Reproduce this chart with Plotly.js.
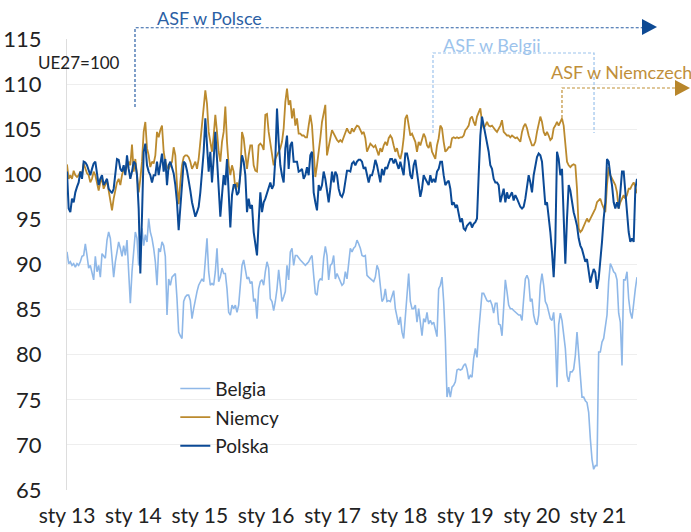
<!DOCTYPE html>
<html><head><meta charset="utf-8">
<script src="https://cdn.plot.ly/plotly-3.0.1.min.js"></script>
<style>html,body{margin:0;padding:0;background:#fff}#chart{width:691px;height:532px}</style>
</head><body><div id="chart"></div>
<script>
// observation grid: ~9-day readings starting Jan 2013
const startYear = 2013;
const obsPerYear = 39.84;
const tickYears = [2013, 2014, 2015, 2016, 2017, 2018, 2019, 2020, 2021];
const tickLabels = ['sty 13', 'sty 14', 'sty 15', 'sty 16', 'sty 17', 'sty 18', 'sty 19', 'sty 20', 'sty 21'];
const seriesNames = ['Belgia', 'Niemcy', 'Polska'];

const belgia = [
91.4, 90.1, 90.3, 89.9, 90.1, 89.7, 90.1, 89.9, 90.3, 90.9,
91.0, 92.3, 91.0, 89.6, 89.9, 89.2, 88.3, 90.9, 89.2, 89.9,
88.6, 91.2, 90.9, 90.7, 92.7, 93.6, 92.9, 90.7, 88.6, 90.3,
91.4, 92.5, 91.8, 90.9, 92.1, 91.0, 92.7, 89.2, 85.7, 89.2,
91.4, 93.6, 92.9, 89.9, 91.0, 94.0, 92.1, 93.3, 92.5, 95.1,
93.6, 92.9, 91.8, 90.3, 87.7, 91.8, 91.4, 92.5, 92.1, 90.9,
84.4, 88.4, 87.7, 88.6, 88.8, 89.0, 86.2, 82.5, 82.1, 81.8,
85.9, 86.4, 86.6, 86.6, 86.0, 84.0, 85.1, 86.2, 87.0, 87.7,
88.1, 88.4, 88.1, 90.1, 92.9, 89.2, 87.7, 87.9, 87.7, 89.2,
91.8, 88.1, 88.6, 89.6, 89.0, 89.0, 87.3, 84.7, 84.4, 85.5,
85.1, 85.5, 84.7, 85.5, 87.3, 89.9, 90.5, 89.2, 88.4, 88.6,
87.9,
88.1, 85.9, 86.2, 84.0, 87.3, 88.1, 88.3, 87.7, 89.2, 90.3,
89.6, 86.2, 85.9, 84.9, 85.9, 87.3, 89.4, 87.7, 85.9, 86.4,
87.0, 89.9, 88.3, 91.4, 91.8, 89.9, 91.0, 91.0, 90.7, 90.5,
90.3, 90.1, 89.9, 90.1, 90.3, 90.7, 91.0, 88.8, 86.8, 86.6,
88.1, 88.4, 88.3, 90.7, 92.0, 91.0, 88.3, 89.9, 90.1, 91.0,
88.4, 89.0, 88.6, 88.1, 87.7, 87.9, 89.2, 88.4, 90.3, 91.8,
91.4, 91.8, 92.0, 92.7, 92.3, 91.8, 91.0, 90.9, 91.0, 88.8,
88.6, 88.4, 88.3, 88.1, 88.6, 89.9, 89.4, 87.3, 85.9, 86.2,
87.3, 85.9, 86.0, 85.9, 86.6, 87.1, 85.1, 84.0, 83.3, 84.2,
82.5, 81.8, 84.4, 86.2, 89.0, 85.9, 85.1, 85.1, 85.5, 83.6,
85.1, 83.6, 82.1, 84.0, 83.6, 84.7, 83.4, 83.8, 83.4, 83.6,
82.9, 82.0, 87.3, 87.7,
88.6, 85.9, 81.8, 75.3, 76.4, 75.3, 76.4, 76.6, 77.0, 78.3,
78.4, 78.3, 78.4, 78.8, 79.0, 78.4, 77.3, 77.7, 77.5, 79.6,
80.7, 79.7, 82.5, 84.4, 86.8, 86.8, 86.4, 86.0, 85.9, 86.0,
85.5, 84.6, 85.7, 85.7, 83.4, 83.3, 82.1, 85.5, 88.3, 87.0,
85.5, 85.1, 85.1, 84.9, 84.7, 84.6, 84.4, 84.4, 83.8, 86.2,
88.4, 88.8, 88.3, 85.9, 86.2, 84.4, 83.6, 83.3, 84.4, 87.7,
89.0, 87.7, 85.9, 85.5, 84.7, 84.0, 83.8, 84.7, 81.8, 76.4,
83.3, 84.6, 83.8, 82.1, 80.7, 77.7, 77.0, 78.1, 78.1, 78.4,
79.9, 82.5, 79.9, 78.1, 75.3, 75.3, 74.9, 74.7, 73.6, 70.7,
68.4, 67.3, 67.7, 67.7, 80.3, 80.3, 81.4, 81.8, 82.9, 84.4,
88.1, 90.1, 89.7, 89.2, 89.0, 88.3, 84.6, 83.6, 78.8, 88.3,
88.3, 89.2, 86.2, 84.7, 84.0, 85.9, 87.3, 88.6
];

const niemcy = [
101.1, 99.5, 99.9, 99.5, 100.4, 99.9, 99.7, 99.9, 100.3, 99.9,
101.2, 100.6, 100.1, 99.9, 99.1, 99.5, 100.3, 99.9, 99.1, 98.2,
99.1, 99.5, 98.4, 98.8, 99.3, 98.2, 96.9, 96.0, 97.3, 98.4,
99.1, 99.5, 98.8, 99.9, 100.6, 100.3, 101.0, 101.4, 101.0, 103.3,
100.3, 101.7, 99.9, 98.0, 99.5, 101.4, 104.7, 105.8, 102.9, 102.1,
100.8, 101.4, 101.2, 102.1, 104.7, 104.1, 104.9, 105.4, 102.5, 101.4,
100.8, 100.6, 101.0, 101.4, 103.0, 102.1, 98.8, 96.7, 99.1, 101.0,
101.9, 102.1, 102.1, 101.9, 101.4, 100.6, 101.0, 101.4, 100.6, 101.7,
103.6, 105.4, 106.9, 109.3, 107.8, 104.7, 103.6, 102.5, 104.3, 106.6,
104.7, 102.5, 101.4, 103.6, 104.7, 107.5, 103.6, 101.0, 99.9, 101.0,
100.3, 98.4, 99.1, 98.4, 99.9, 104.7, 104.0, 102.1, 100.6, 102.1,
103.2,
103.2, 101.0, 100.4, 100.3, 103.2, 103.4, 103.2, 102.7, 106.6, 106.7,
104.7, 103.6, 102.5, 101.0, 101.7, 102.1, 102.5, 102.9, 103.6, 105.1,
108.0, 109.5, 107.7, 108.2, 106.2, 107.3, 105.4, 106.2, 104.5, 104.5,
104.3, 104.3, 104.1, 104.1, 105.4, 106.6, 105.4, 102.1, 99.7, 101.0,
102.9, 104.0, 105.8, 106.9, 107.7, 102.1, 102.9, 104.0, 104.9, 104.5,
104.1, 103.8, 103.6, 103.8, 103.6, 104.1, 104.7, 105.1, 104.7, 104.5,
105.1, 104.7, 105.1, 105.4, 105.3, 104.9, 104.5, 104.7, 104.0, 102.5,
103.0, 103.4, 103.2, 103.0, 103.2, 102.5, 102.1, 102.9, 102.5, 103.2,
103.6, 103.2, 104.0, 104.3, 104.0, 103.2, 102.5, 102.9, 102.1, 101.7,
102.5, 104.0, 106.2, 106.6, 105.4, 104.3, 104.5, 104.1, 103.6, 102.5,
103.6, 103.2, 103.8, 104.5, 104.1, 103.2, 102.9, 103.6, 102.5, 102.1,
101.7, 103.2, 104.0, 105.4,
105.1, 103.6, 102.5, 102.7, 103.0, 103.0, 104.0, 104.1, 104.0, 104.1,
104.0, 104.1, 104.1, 104.3, 104.9, 105.1, 105.4, 106.2, 106.4, 105.8,
105.4, 106.4, 106.9, 107.3, 105.8, 105.1, 105.4, 105.8, 105.4, 105.3,
105.4, 105.1, 104.9, 104.7, 105.1, 105.4, 106.0, 104.7, 104.5, 104.3,
104.3, 104.1, 104.3, 104.1, 104.0, 104.1, 103.8, 103.6, 104.7, 105.3,
105.6, 105.1, 104.3, 103.6, 103.2, 103.2, 103.6, 104.7, 105.4, 106.4,
105.8, 104.7, 104.3, 104.7, 104.3, 103.8, 104.0, 105.1, 105.4, 105.8,
105.4, 105.8, 106.2, 105.4, 103.6, 101.4, 101.0, 100.8, 101.0, 101.1,
101.0, 98.4, 94.0, 93.6, 93.8, 94.3, 94.7, 95.1, 94.7, 95.1,
95.4, 95.8, 96.2, 96.9, 97.1, 97.3, 96.7, 96.2, 95.8, 98.8,
100.8, 99.9, 99.5, 99.1, 98.8, 98.0, 96.2, 96.9, 97.3, 97.7,
97.3, 97.7, 98.4, 98.4, 98.8, 99.1, 98.6, 97.9
];

const polska = [
100.3, 96.2, 95.8, 97.3, 96.9, 98.0, 98.6, 99.1, 100.3, 99.5,
101.4, 101.3, 101.0, 100.4, 99.9, 100.6, 101.2, 101.4, 99.9, 98.8,
99.5, 99.9, 98.8, 99.1, 99.5, 98.4, 98.2, 97.9, 98.4, 100.3,
101.7, 101.6, 100.6, 100.3, 101.0, 99.9, 102.1, 100.6, 99.5, 100.3,
101.4, 101.2, 99.9, 96.2, 89.0, 95.4, 102.5, 103.4, 101.0, 100.3,
99.9, 99.1, 99.9, 99.9, 101.4, 99.9, 101.4, 102.3, 100.3, 101.7,
98.8, 101.0, 101.4, 100.6, 100.1, 98.8, 96.9, 93.8, 96.9, 98.8,
101.4, 101.2, 100.4, 99.5, 98.2, 96.9, 96.2, 95.3, 95.8, 96.4,
98.0, 99.9, 102.5, 106.2, 103.6, 100.3, 102.5, 99.1, 101.7, 104.7,
101.7, 98.8, 95.3, 97.7, 99.9, 98.8, 101.7, 98.0, 94.1, 97.7,
98.8, 98.8, 97.7, 98.0, 99.9, 102.1, 101.4, 99.9, 95.8, 97.3,
96.2,
96.6, 93.6, 92.1, 91.0, 94.7, 98.0, 95.8, 96.9, 97.3, 98.0,
98.6, 99.1, 98.4, 98.8, 101.7, 107.3, 103.6, 101.0, 99.9, 99.1,
102.9, 104.3, 100.6, 103.2, 103.6, 101.4, 101.4, 101.4, 100.3, 100.4,
100.6, 99.5, 99.9, 100.8, 99.9, 102.1, 102.5, 98.0, 96.9, 96.0,
98.8, 98.2, 98.8, 100.3, 99.5, 98.0, 96.9, 98.4, 100.3, 99.1,
100.3, 99.9, 98.4, 97.7, 97.5, 98.0, 99.1, 100.4, 100.4, 100.3,
101.2, 101.4, 101.0, 101.4, 101.6, 101.6, 101.4, 100.6, 100.8, 99.9,
99.1, 99.9, 99.9, 100.6, 101.6, 101.0, 99.9, 99.1, 100.6, 99.9,
100.8, 100.6, 101.2, 101.7, 101.7, 101.2, 101.7, 101.0, 100.6, 101.4,
100.6, 99.9, 102.3, 102.3, 101.4, 99.9, 99.5, 101.0, 101.6, 100.3,
99.1, 97.5, 98.4, 99.9, 99.5, 99.1, 98.8, 99.9, 99.1, 99.5,
99.1, 100.3, 100.6, 101.4,
101.4, 99.9, 98.8, 99.1, 99.3, 98.4, 96.6, 96.9, 96.4, 96.6,
95.4, 94.7, 95.1, 94.0, 93.8, 94.3, 94.5, 94.7, 94.1, 94.5,
94.7, 95.1, 99.9, 104.3, 106.4, 105.4, 104.5, 103.8, 102.5, 101.0,
100.6, 99.5, 99.1, 99.1, 98.8, 96.9, 97.7, 98.4, 96.9, 98.0,
97.3, 97.7, 98.0, 97.1, 97.7, 97.3, 96.9, 96.4, 96.2, 96.4,
97.3, 98.4, 99.9, 99.1, 98.0, 99.9, 101.0, 101.9, 102.3, 102.1,
101.4, 98.8, 96.6, 96.9, 95.4, 93.6, 91.4, 88.6, 92.5, 102.5,
101.7, 99.9, 100.6, 95.1, 90.1, 95.1, 98.8, 98.2, 96.9, 95.8,
95.1, 94.3, 92.9, 92.1, 91.7, 91.0, 90.3, 90.6, 89.5, 88.0,
88.8, 89.5, 89.1, 87.3, 88.4, 90.3, 92.5, 95.1, 96.9, 101.7,
101.4, 99.9, 98.8, 96.9, 96.2, 96.9, 96.2, 98.0, 100.3, 100.3,
98.0, 95.8, 93.6, 92.5, 92.9, 92.5, 98.4, 99.5
];

const timeOf = arr => arr.map((_, i) => startYear + i / obsPerYear);
const lastTime = startYear + (polska.length - 1) / obsPerYear;

const FONT = 'Lato, "Open Sans", "DejaVu Sans", sans-serif';
const colors = { Belgia: '#8fb8e8', Niemcy: '#bb8a2e', Polska: '#0b4a96' };
const widths = { Belgia: 1.6, Niemcy: 1.8, Polska: 2.0 };
const values = { Belgia: belgia, Niemcy: niemcy, Polska: polska };

const traces = seriesNames.map(name => ({
  type: 'scatter', mode: 'lines', name: name,
  x: timeOf(values[name]), y: values[name],
  legendgroup: name,
  line: { color: colors[name], width: widths[name] },
  hoverinfo: 'skip'
}));

const dot = '3px,2px';
const layout = {
  width: 691, height: 532,
  margin: { l: 67, r: 54, t: 39, b: 42 },
  paper_bgcolor: '#ffffff', plot_bgcolor: '#ffffff',
  font: { family: FONT, color: '#222222' },
  showlegend: true,
  legend: {
    x: 0.19, xanchor: 'left', y: 0.267, yanchor: 'top',
    bgcolor: 'rgba(0,0,0,0)', font: { family: FONT, size: 19, color: '#222222' },
    traceorder: 'grouped', tracegroupgap: 1
  },
  xaxis: {
    range: [startYear, lastTime],
    tickmode: 'array', tickvals: tickYears, ticktext: tickLabels,
    showgrid: false, zeroline: false, showline: false, ticks: '',
    tickfont: { family: FONT, size: 21, color: '#222222' },
    ticklabelstandoff: 11, fixedrange: true
  },
  yaxis: {
    range: [65, 115], tick0: 65, dtick: 5,
    showgrid: true, gridcolor: '#eeeeee', gridwidth: 1,
    zeroline: false, showline: true, linecolor: '#dddddd', linewidth: 1,
    ticks: '', tickfont: { family: FONT, size: 22, color: '#222222' },
    ticklabelstandoff: 20, fixedrange: true
  },
  shapes: [
    { type: 'line', xref: 'paper', yref: 'y', x0: 0, x1: 1, y0: 100, y1: 100,
      line: { color: '#d6d6d6', width: 1.3 }, layer: 'below' },
    // ASF w Polsce
    { type: 'path', xref: 'paper', yref: 'paper',
      path: 'M 0.1193 0.8492 L 0.1193 1.025 L 1.0105 1.025',
      line: { color: '#2b5fa5', width: 1.2, dash: dot } },
    { type: 'path', xref: 'paper', yref: 'paper',
      path: 'M 1.0088 1.0443 L 1.0351 1.0266 L 1.0088 1.0089 Z',
      fillcolor: '#0e4a94', line: { width: 0 } },
    // ASF w Belgii
    { type: 'path', xref: 'paper', yref: 'paper',
      path: 'M 0.6421 0.7916 L 0.6421 0.9690 L 0.9246 0.9690 L 0.9246 0.7916',
      line: { color: '#9cc3ec', width: 1.2, dash: dot } },
    // ASF w Niemczech
    { type: 'path', xref: 'paper', yref: 'paper',
      path: 'M 0.8684 0.8248 L 0.8684 0.8914 L 1.0667 0.8914',
      line: { color: '#c09035', width: 1.2, dash: dot } },
    { type: 'path', xref: 'paper', yref: 'paper',
      path: 'M 1.0667 0.9091 L 1.0930 0.8914 L 1.0667 0.8736 Z',
      fillcolor: '#b8862b', line: { width: 0 } }
  ],
  annotations: [
    { text: 'UE27=100', xref: 'paper', yref: 'paper', x: -0.0544, y: 0.949,
      xanchor: 'left', yanchor: 'middle', showarrow: false,
      font: { family: FONT, size: 17, color: '#222222' } },
    { text: 'ASF w Polsce', xref: 'paper', yref: 'paper', x: 0.1544, y: 1.0466,
      xanchor: 'left', yanchor: 'middle', showarrow: false,
      font: { family: FONT, size: 18, color: '#2b5fa5' } },
    { text: 'ASF w Belgii', xref: 'paper', yref: 'paper', x: 0.656, y: 0.9867,
      xanchor: 'left', yanchor: 'middle', showarrow: false,
      font: { family: FONT, size: 18, color: '#9cc3ec' } },
    { text: 'ASF w Niemczech', xref: 'paper', yref: 'paper', x: 0.8456, y: 0.9268,
      xanchor: 'left', yanchor: 'middle', showarrow: false,
      font: { family: FONT, size: 18, color: '#bf8f3a' } }
  ]
};

Plotly.newPlot('chart', traces, layout, { displayModeBar: false, staticPlot: true });
</script>
</body></html>
